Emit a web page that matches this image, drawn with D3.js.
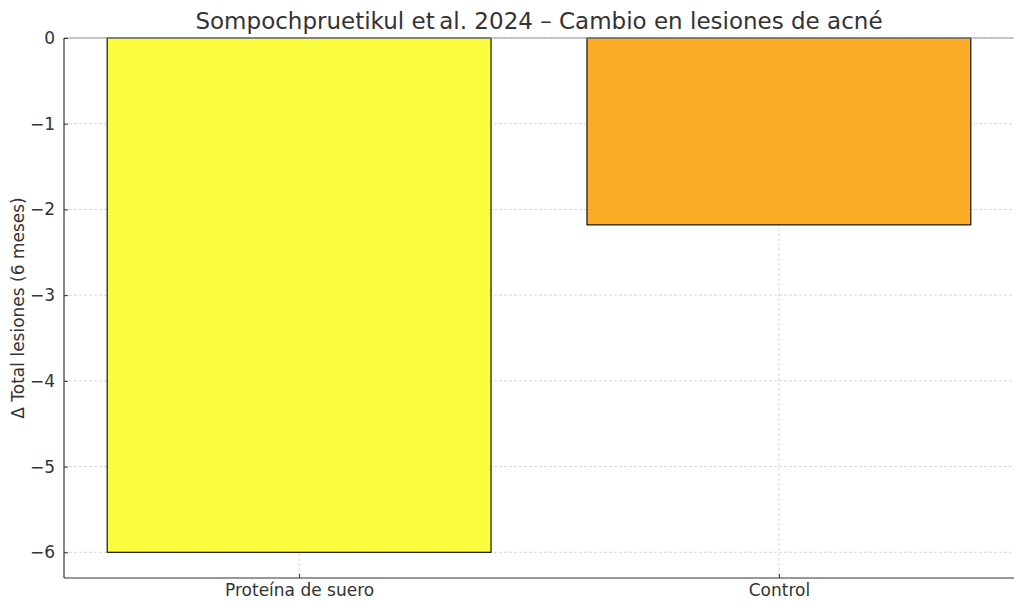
<html>
  <head>
    <meta charset="utf-8" />
    <style>
      body { margin: 0; background: #fff; }
      text { font-family: "DejaVu Sans", sans-serif; fill: #333; }
    </style>
  </head>
  <body>
    <script src="https://d3js.org/d3.v7.min.js"></script>
    <script>
      // DATA
      const categories = ["Proteína de suero", "Control"];
      const values = [-6.0, -2.18];
      const colors = ["#fdfd38", "#fdaa1c"];
      const yTicks = [0, -1, -2, -3, -4, -5, -6];

      const W = 1024, H = 611;
      const margin = { top: 38, right: 10, bottom: 33, left: 64 };
      const innerW = W - margin.left - margin.right;
      const innerH = H - margin.top - margin.bottom;

      const svg = d3.select("body").append("svg")
        .attr("width", W).attr("height", H);

      const g = svg.append("g")
        .attr("transform", `translate(${margin.left},${margin.top})`);

      // x in "category index" units, like matplotlib with 5% margins
      const x = d3.scaleLinear().domain([-0.49, 1.49]).range([0, innerW]);
      const y = d3.scaleLinear().domain([-6.3, 0]).range([innerH, 0]);
      const barW = 0.8;

      // grid
      g.append("g").selectAll("line.hgrid")
        .data(yTicks).enter().append("line")
        .attr("x1", 0).attr("x2", innerW)
        .attr("y1", d => y(d)).attr("y2", d => y(d))
        .attr("stroke", "#cccccc").attr("stroke-width", 0.8)
        .attr("stroke-dasharray", "3,2");
      g.append("g").selectAll("line.vgrid")
        .data(categories).enter().append("line")
        .attr("x1", (d, i) => x(i)).attr("x2", (d, i) => x(i))
        .attr("y1", 0).attr("y2", innerH)
        .attr("stroke", "#cccccc").attr("stroke-width", 0.8)
        .attr("stroke-dasharray", "3,2");

      // bars
      g.append("g").selectAll("rect")
        .data(values).enter().append("rect")
        .attr("x", (d, i) => x(i - barW / 2))
        .attr("width", (d, i) => x(i + barW / 2) - x(i - barW / 2))
        .attr("y", d => y(0))
        .attr("height", d => y(d) - y(0))
        .attr("fill", (d, i) => colors[i])
        .attr("fill-opacity", 0.96)
        .attr("stroke", "#000").attr("stroke-width", 1.1);

      // zero line
      g.append("line")
        .attr("x1", 0).attr("x2", innerW)
        .attr("y1", y(0)).attr("y2", y(0))
        .attr("stroke", "#999").attr("stroke-width", 1.2);

      // axes
      const yAxis = d3.axisLeft(y).tickValues(yTicks)
        .tickSize(-4).tickPadding(9)
        .tickFormat(d => d === 0 ? "0" : "\u2212" + Math.abs(d));
      const gy = g.append("g").call(yAxis);
      gy.select(".domain").attr("stroke", "#333").attr("stroke-width", 1.2)
        .attr("d", `M0,${innerH}V0`);
      gy.selectAll(".tick line").attr("stroke", "#333");
      gy.selectAll(".tick text").style("font-size", "17px");

      const xAxis = d3.axisBottom(x).tickValues([0, 1])
        .tickSize(-4).tickPadding(6)
        .tickFormat(i => categories[i]);
      const gx = g.append("g").attr("transform", `translate(0,${innerH})`).call(xAxis);
      gx.select(".domain").attr("stroke", "#333").attr("stroke-width", 1.2)
        .attr("d", `M0,0H${innerW}`);
      gx.selectAll(".tick line").attr("stroke", "#333");
      gx.selectAll(".tick text").style("font-size", "17px");

      // title
      svg.append("text")
        .attr("x", margin.left + innerW / 2).attr("y", 29)
        .attr("text-anchor", "middle")
        .style("font-size", "23px")
        .text("Sompochpruetikul et\u2009al. 2024 \u2013 Cambio en lesiones de acné");

      // y label
      svg.append("text")
        .attr("transform", `translate(24,${margin.top + innerH / 2}) rotate(-90)`)
        .attr("text-anchor", "middle")
        .style("font-size", "17px")
        .text("\u0394 Total lesiones (6 meses)");
    </script>
  </body>
</html>
